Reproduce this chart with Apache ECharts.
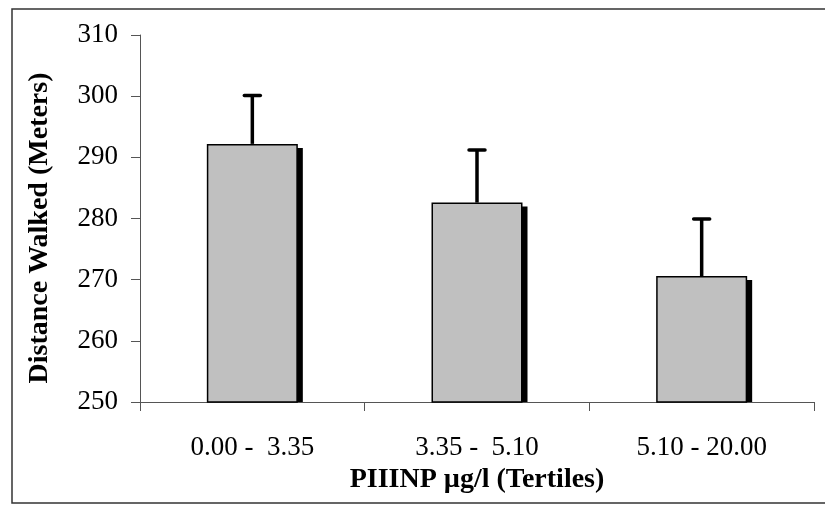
<!DOCTYPE html>
<html>
<head>
<meta charset="utf-8">
<script src="https://cdn.jsdelivr.net/npm/echarts@6/dist/echarts.min.js"></script>
<style>
  html, body { margin: 0; padding: 0; background: #fff; }
  #chart { width: 825px; height: 508px; }
</style>
</head>
<body>
<div id="chart"></div>
<script>
const categories = ['0.00 -  3.35', '3.35 -  5.10', '5.10 - 20.00'];
const means = [292.2, 282.6, 270.6];
const errors = [7.9, 8.6, 9.3];
const yTicks = { min: 250, max: 310, interval: 10 };
const xTitle = 'PIIINP µg/l (Tertiles)';
const yTitle = 'Distance Walked (Meters)';

const chart = echarts.init(document.getElementById('chart'), null, { renderer: 'canvas' });
const FONT = '"Liberation Serif", "Times New Roman", serif';

const option = {
  animation: false,
  backgroundColor: '#ffffff',
  grid: { left: 140, right: 11, top: 35, bottom: 106 },
  xAxis: {
    type: 'category',
    data: categories,
    boundaryGap: true,
    axisLine: { lineStyle: { color: '#555', width: 1 } },
    axisTick: { show: true, length: 9, lineStyle: { color: '#555' } },
    axisLabel: { color: '#000', fontFamily: FONT, fontSize: 27, margin: 32 },
    name: xTitle,
    nameLocation: 'middle',
    nameGap: 58,
    nameTextStyle: { color: '#000', fontFamily: FONT, fontSize: 28, fontWeight: 'bold' }
  },
  yAxis: {
    type: 'value',
    min: yTicks.min, max: yTicks.max, interval: yTicks.interval,
    splitLine: { show: false },
    axisLine: { show: true, lineStyle: { color: '#555', width: 1 } },
    axisTick: { show: true, length: 9, lineStyle: { color: '#555' } },
    axisLabel: { color: '#000', fontFamily: FONT, fontSize: 27, margin: 22 }
  },
  graphic: [
    { type: 'polyline', shape: { points: [[825, 9], [12, 9], [12, 503], [825, 503]] },
      style: { stroke: '#333', lineWidth: 1.5, fill: null }, silent: true },
    { type: 'text', x: 40, y: 228, rotation: Math.PI / 2, silent: true,
      style: { text: yTitle, fill: '#000', font: 'bold 28px ' + FONT,
               align: 'center', verticalAlign: 'middle' } }
  ],
  series: [
    {
      type: 'custom',
      z: 1,
      data: means.map((v, i) => [i, v]),
      renderItem: function (params, api) {
        const top = api.coord([api.value(0), api.value(1)]);
        const base = api.coord([api.value(0), yTicks.min]);
        const bw = 91;
        return {
          type: 'rect',
          shape: { x: top[0] + bw / 2 - 1, y: top[1] + 4, width: 6, height: base[1] - top[1] - 4 },
          style: { fill: '#000' }
        };
      }
    },
    {
      type: 'bar',
      z: 2,
      data: means,
      barWidth: 91,
      itemStyle: { color: '#c0c0c0', borderColor: '#000', borderWidth: 1.5 }
    },
    {
      type: 'custom',
      z: 3,
      data: means.map((v, i) => [i, v, v + errors[i]]),
      renderItem: function (params, api) {
        const lo = api.coord([api.value(0), api.value(1)]);
        const hi = api.coord([api.value(0), api.value(2)]);
        const cap = 8;
        return {
          type: 'group',
          children: [
            { type: 'line', shape: { x1: lo[0], y1: lo[1], x2: hi[0], y2: hi[1] },
              style: { stroke: '#000', lineWidth: 3.5 } },
            { type: 'line', shape: { x1: hi[0] - cap, y1: hi[1], x2: hi[0] + cap, y2: hi[1] },
              style: { stroke: '#000', lineWidth: 3.5, lineCap: 'round' } }
          ]
        };
      }
    }
  ]
};
chart.setOption(option);
</script>
</body>
</html>
